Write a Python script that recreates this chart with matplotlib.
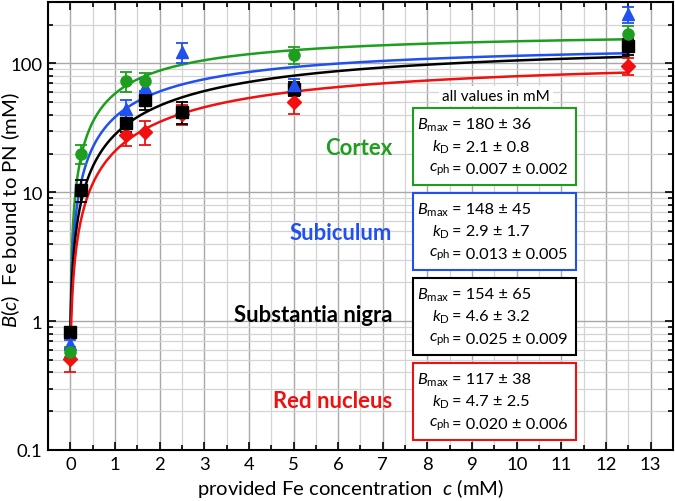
import numpy as np
import matplotlib
matplotlib.use("Agg")
import matplotlib.pyplot as plt
from matplotlib.patches import Rectangle
from matplotlib.ticker import FixedLocator, MultipleLocator, NullFormatter

plt.rcParams["font.family"] = ["Lato", "DejaVu Sans"]
plt.rcParams["mathtext.fontset"] = "custom"
plt.rcParams["mathtext.rm"] = "Lato"
plt.rcParams["mathtext.it"] = "Lato:italic"
plt.rcParams["mathtext.bf"] = "Lato:bold"

# measured Fe bound to PN, per region
regions = ["Cortex", "Subiculum", "Substantia nigra", "Red nucleus"]
colors = ["#1e9e1e", "#2050f0", "#000000", "#f01010"]
markers = ["o", "^", "s", "D"]

x_cortex = [0, 0.25, 1.25, 1.67, 5, 12.5]
y_cortex = [0.575, 20, 72.7, 73, 117, 170]
e_cortex = [0.05, 3.5, 13, 12, 18, 25]

x_subic = [0, 1.25, 1.67, 2.5, 5, 12.5]
y_subic = [0.67, 44.7, 65.6, 122, 67.7, 240]
e_subic = [0.05, 7, 10, 22, 8, 35]

x_sn = [0, 0.25, 1.25, 1.67, 2.5, 5, 12.5]
y_sn = [0.83, 10.4, 34.6, 52.5, 42, 63.8, 136]
e_sn = [0.05, 2, 5, 9, 8, 8, 20]

x_rn = [0, 1.25, 1.67, 2.5, 5, 12.5]
y_rn = [0.506, 27.8, 29.5, 40.4, 50.3, 95.5]
e_rn = [0.1, 5, 6, 7, 10, 14]

# fit parameters shown in the boxes: Bmax, kD, cph (value, error)
bmax = [(180, 36), (148, 45), (154, 65), (117, 38)]
kd = [(2.1, 0.8), (2.9, 1.7), (4.6, 3.2), (4.7, 2.5)]
cph = [(0.007, 0.002), (0.013, 0.005), (0.025, 0.009), (0.020, 0.006)]

xs = [x_cortex, x_subic, x_sn, x_rn]
ys = [y_cortex, y_subic, y_sn, y_rn]
es = [e_cortex, e_subic, e_sn, e_rn]

W, H = 675, 502
fig = plt.figure(figsize=(W / 100, H / 100), dpi=100)
L, R, T, B = 48, 673, 3, 451
ax = fig.add_axes([L / W, 1 - B / H, (R - L) / W, (B - T) / H])
renderer = fig.canvas.get_renderer()


def px(x, y):
    # pixel position in the picture -> axes fraction
    return (x - L) / (R - L), (B - y) / (B - T)


def fit_width(txt, target):
    # scale a text so it is `target` pixels wide
    w = txt.get_window_extent(renderer).width
    txt.set_fontsize(txt.get_fontsize() * target / w)
    return txt.get_fontsize()


# fitted binding curves
c = np.linspace(0, 12.5, 600)
for i in range(4):
    bm, k, cp = bmax[i][0], kd[i][0], cph[i][0]
    fit = bm * (c + cp) / (k + c + cp)
    ax.plot(c, fit, color=colors[i], lw=1.8, zorder=3)

for i in [3, 2, 1, 0]:
    ax.errorbar(xs[i], ys[i], yerr=es[i], fmt=markers[i], color=colors[i],
                ms=8 if markers[i] != "D" else 7, capsize=4, elinewidth=1.3,
                capthick=1.3, zorder=4)

ax.set_yscale("log")
ax.set_xlim(-0.5, 13.5)
ax.set_ylim(0.1, 300)
ax.xaxis.set_major_locator(MultipleLocator(1))
ax.xaxis.set_minor_locator(MultipleLocator(0.5))
ax.yaxis.set_major_locator(FixedLocator([0.1, 1, 10, 100]))
ax.yaxis.set_minor_locator(FixedLocator(
    [m * 10.0 ** d for d in range(-1, 3) for m in range(2, 10)]))
ax.yaxis.set_minor_formatter(NullFormatter())
ax.set_yticklabels(["0.1", "1", "10", "100"])

# tick label size from the width of "100" in the reference
probe = fig.text(0, 0, "100", fontsize=12)
tick_fs = fit_width(probe, 32)
probe.remove()

ax.grid(which="major", color="#a8a8a8", lw=1.0, zorder=0)
ax.grid(which="minor", color="#d4d4d4", lw=0.9, zorder=0)
ax.set_axisbelow(True)
ax.tick_params(which="both", direction="in", top=True, right=True,
               labelsize=tick_fs, width=1.2)
ax.tick_params(which="major", length=6, pad=4)
ax.tick_params(which="minor", length=3.5)
for s in ax.spines.values():
    s.set_linewidth(1.5)

xl = fig.text(351 / W, 1 - 489 / H, r"provided Fe concentration  $c$ (mM)",
              ha="center", va="center", fontsize=14)
label_fs = fit_width(xl, 308)
fig.text(10.5 / W, 1 - 210 / H, r"$B$($c$)  Fe bound to PN (mM)",
         ha="center", va="center", rotation=90, fontsize=label_fs)

# region names
name_y = [149, 234, 316, 402]
names = []
for i, name in enumerate(regions):
    names.append(ax.text(*px(392, name_y[i]), name, transform=ax.transAxes,
                         ha="right", va="center", fontsize=14,
                         fontweight="bold", color=colors[i], zorder=6))
name_fs = fit_width(names[2], 160)
for t in names:
    t.set_fontsize(name_fs)

note = ax.text(*px(496, 97), "all values in mM", transform=ax.transAxes,
               ha="center", va="center", fontsize=11, zorder=6,
               bbox=dict(facecolor="white", edgecolor="none", pad=2))
fit_width(note, 108)

box_top = [109, 194, 279, 364]
probe = fig.text(0, 0, "= 0.007 ± 0.002", fontsize=12)
box_fs = fit_width(probe, 115)
probe.remove()
for i in range(4):
    x0, y0 = px(413, box_top[i] + 77)
    x1, y1 = px(576, box_top[i])
    ax.add_patch(Rectangle((x0, y0), x1 - x0, y1 - y0, transform=ax.transAxes,
                           facecolor="white", edgecolor=colors[i], lw=1.5,
                           zorder=5))
    rows = [(r"$B_{\mathrm{max}}$", f"= {bmax[i][0]} ± {bmax[i][1]}"),
            (r"$k_{\mathrm{D}}$", f"= {kd[i][0]} ± {kd[i][1]}"),
            (r"$c_{\mathrm{ph}}$", f"= {cph[i][0]:.3f} ± {cph[i][1]:.3f}")]
    for j, (lab, val) in enumerate(rows):
        yy = box_top[i] + 16 + 22.5 * j
        ax.text(*px(450, yy), lab, transform=ax.transAxes, ha="right",
                va="center", fontsize=box_fs, zorder=6)
        ax.text(*px(452, yy), val, transform=ax.transAxes, ha="left",
                va="center", fontsize=box_fs, zorder=6)

fig.savefig("out.png", dpi=100)
